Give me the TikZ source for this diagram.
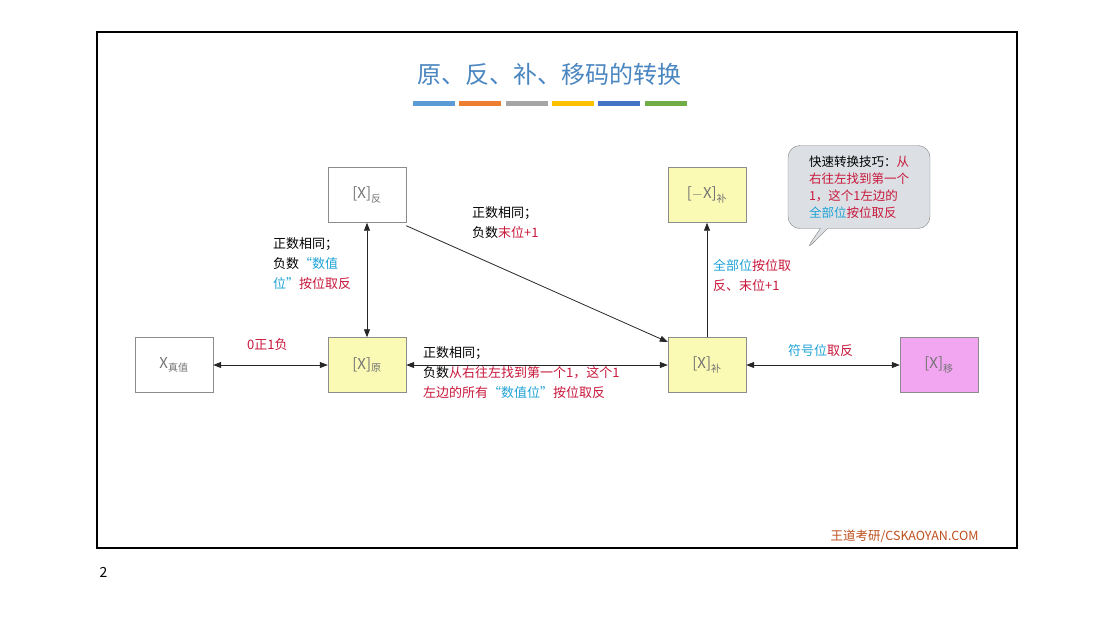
\documentclass[tikz,border=0pt]{standalone}
\usepackage{fontspec}
\setmainfont{Noto Sans CJK SC}
\usetikzlibrary{arrows.meta,shapes.callouts}
\definecolor{rd}{HTML}{C8183C}
\definecolor{bl}{HTML}{1FA3D6}
\definecolor{tt}{HTML}{4A86C0}
\definecolor{yb}{HTML}{FAFAB4}
\definecolor{pk}{HTML}{F2A6F2}
\definecolor{c0}{HTML}{5B9BD5}\definecolor{c1}{HTML}{ED7D31}\definecolor{c2}{HTML}{A5A5A5}
\definecolor{c3}{HTML}{FFC000}\definecolor{c4}{HTML}{4472C4}\definecolor{c5}{HTML}{70AD47}
\begin{document}
\begin{tikzpicture}[x=1pt,y=-1pt,
  box/.style={draw=black!45,minimum width=78pt,minimum height=55pt,inner sep=0pt,font=\fontsize{15}{18}\selectfont,text=black!55},
  lab/.style={font=\fontsize{13}{20}\selectfont,align=left,anchor=north west,inner sep=0pt},
  arr/.style={draw=black!85,line width=0.8pt},
  tip/.style={-{Triangle[length=8pt,width=6pt]}},
  dtip/.style={{Triangle[length=8pt,width=6pt]}-{Triangle[length=8pt,width=6pt]}}]
\useasboundingbox (0,0) rectangle (1109,622);
\fill[white] (0,0) rectangle (1109,622);
\draw[line width=1.2pt] (97,32) rectangle (1017,548);
\node[font=\fontsize{14}{16}\selectfont,anchor=west] (pg) at (96,572) {2};
\node[font=\fontsize{24}{28}\selectfont,text=tt] (title) at (549,74) {原、反、补、移码的转换};
\foreach \i in {0,...,5}
  \fill[c\i] (413+\i*46.3,101) rectangle (455+\i*46.3,106);
\node[box] (zhen) at (174,365) {X\textsubscript{\fontsize{10}{12}\selectfont 真值}};
\node[box,fill=yb] (yuan) at (367,365) {[X]\textsubscript{\fontsize{10}{12}\selectfont 原}};
\node[box] (fan) at (367,195) {[X]\textsubscript{\fontsize{10}{12}\selectfont 反}};
\node[box,fill=yb] (nbu) at (707,195) {[$-$X]\textsubscript{\fontsize{10}{12}\selectfont 补}};
\node[box,fill=yb] (bu) at (707,365) {[X]\textsubscript{\fontsize{10}{12}\selectfont 补}};
\node[box,fill=pk] (yi) at (939,365) {[X]\textsubscript{\fontsize{10}{12}\selectfont 移}};
\draw[arr,dtip] (zhen) -- (yuan);
\draw[arr,dtip] (yuan) -- (bu);
\draw[arr,dtip] (fan) -- (yuan);
\draw[arr,tip] ([yshift=-3pt]fan.south east) -- ([yshift=23pt]bu.west);
\draw[arr,tip] (bu) -- (nbu);
\draw[arr,dtip] (bu) -- (yi);
\node[lab,text=rd] (l1) at (247,338) {0正1负};
\node[lab] (l2) at (273,237) {正数相同；\\负数\textcolor{bl}{“数值}\\\textcolor{bl}{位”}\textcolor{rd}{按位取反}};
\node[lab] (l3) at (472,206) {正数相同；\\负数\textcolor{rd}{末位+1}};
\node[lab] (l4) at (423,346) {正数相同；\\负数\textcolor{rd}{从右往左找到第一个1，这个1}\\\textcolor{rd}{左边的所有}\textcolor{bl}{“数值位”}\textcolor{rd}{按位取反}};
\node[lab,text=rd] (l5) at (713,259) {\textcolor{bl}{全部位}按位取\\反、末位+1};
\node[lab,text=bl] (l6) at (788,344) {符号位\textcolor{rd}{取反}};
\node[draw=black!50,fill={rgb,255:red,220;green,224;blue,228},rounded corners=12pt,rectangle callout,callout absolute pointer={(805,251)},
  minimum width=142pt,minimum height=83pt,font=\fontsize{12.5}{17}\selectfont,align=left,inner sep=4pt] (call) at (859,187)
  {快速转换技巧：\textcolor{rd}{从}\\\textcolor{rd}{右往左找到第一个}\\\textcolor{rd}{1，这个1左边的}\\\textcolor{bl}{全部位}\textcolor{rd}{按位取反}};
\node[font=\fontsize{12.5}{15}\selectfont,text={rgb,255:red,190;green,80;blue,30},anchor=east] (wm) at (982,536) {王道考研/CSKAOYAN.COM};
\end{tikzpicture}
\end{document}
